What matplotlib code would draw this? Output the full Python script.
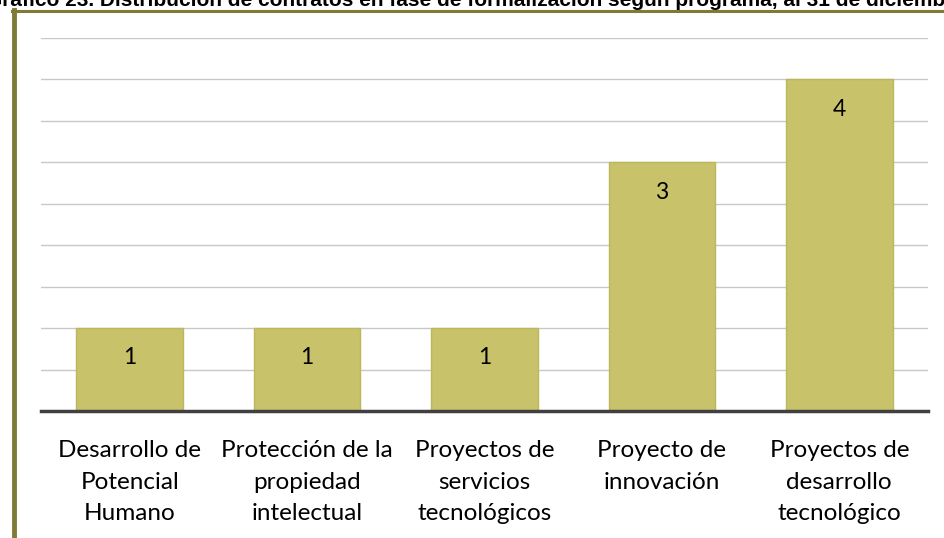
import matplotlib.pyplot as plt
from matplotlib.lines import Line2D

categories = ["Desarrollo de\nPotencial\nHumano",
              "Protección de la\npropiedad\nintelectual",
              "Proyectos de\nservicios\ntecnológicos",
              "Proyecto de\ninnovación",
              "Proyectos de\ndesarrollo\ntecnológico"]
values = [1, 1, 1, 3, 4]
title = "Gráfico 23. Distribución de contratos en fase de formalización según programa, al 31 de diciembre de 2013"

plt.rcParams['font.family'] = ['Lato', 'DejaVu Sans']

W, H = 945, 538
fig = plt.figure(figsize=(W/100, H/100), dpi=100)
ax = fig.add_axes([41/W, (H-411)/H, (928-41)/W, (411-38)/H])

x = range(len(values))
bars = ax.bar(x, values, width=0.6, color='#c8c26a', edgecolor='#bdb75c', linewidth=1, zorder=3)
for b, v in zip(bars, values):
    ax.text(b.get_x() + b.get_width()/2, v - 0.36, str(v), ha='center', va='center',
            fontsize=16.5, color='black', zorder=4)

ax.set_xlim(-0.5, len(values) - 0.5)
ax.set_ylim(0, 4.5)
ax.set_yticks([i*0.5 for i in range(1, 10)])
ax.yaxis.grid(True, color='#c8c8c8', linewidth=1, zorder=0)
ax.tick_params(axis='y', left=False, labelleft=False)
ax.set_xticks(list(x))
ax.set_xticklabels(categories, fontsize=17.5, linespacing=1.62)
ax.tick_params(axis='x', length=0, pad=21)
for s in ['top', 'right', 'left']:
    ax.spines[s].set_visible(False)
ax.spines['bottom'].set_color('#404040')
ax.spines['bottom'].set_linewidth(2.5)
ax.spines['bottom'].set_zorder(5)

# olive frame around the chart
olive = '#7f7a36'
fig.add_artist(Line2D([14/W, 14/W], [0, (H-10)/H], color=olive, linewidth=3.5, transform=fig.transFigure))
fig.add_artist(Line2D([12/W, 1], [(H-10.5)/H, (H-10.5)/H], color=olive, linewidth=2.2, transform=fig.transFigure))

fig.text(-14/W, (H-6)/H, title, fontsize=15, fontweight='bold', family=['Liberation Sans'],
         ha='left', va='baseline')

fig.savefig('out.png', dpi=100)
